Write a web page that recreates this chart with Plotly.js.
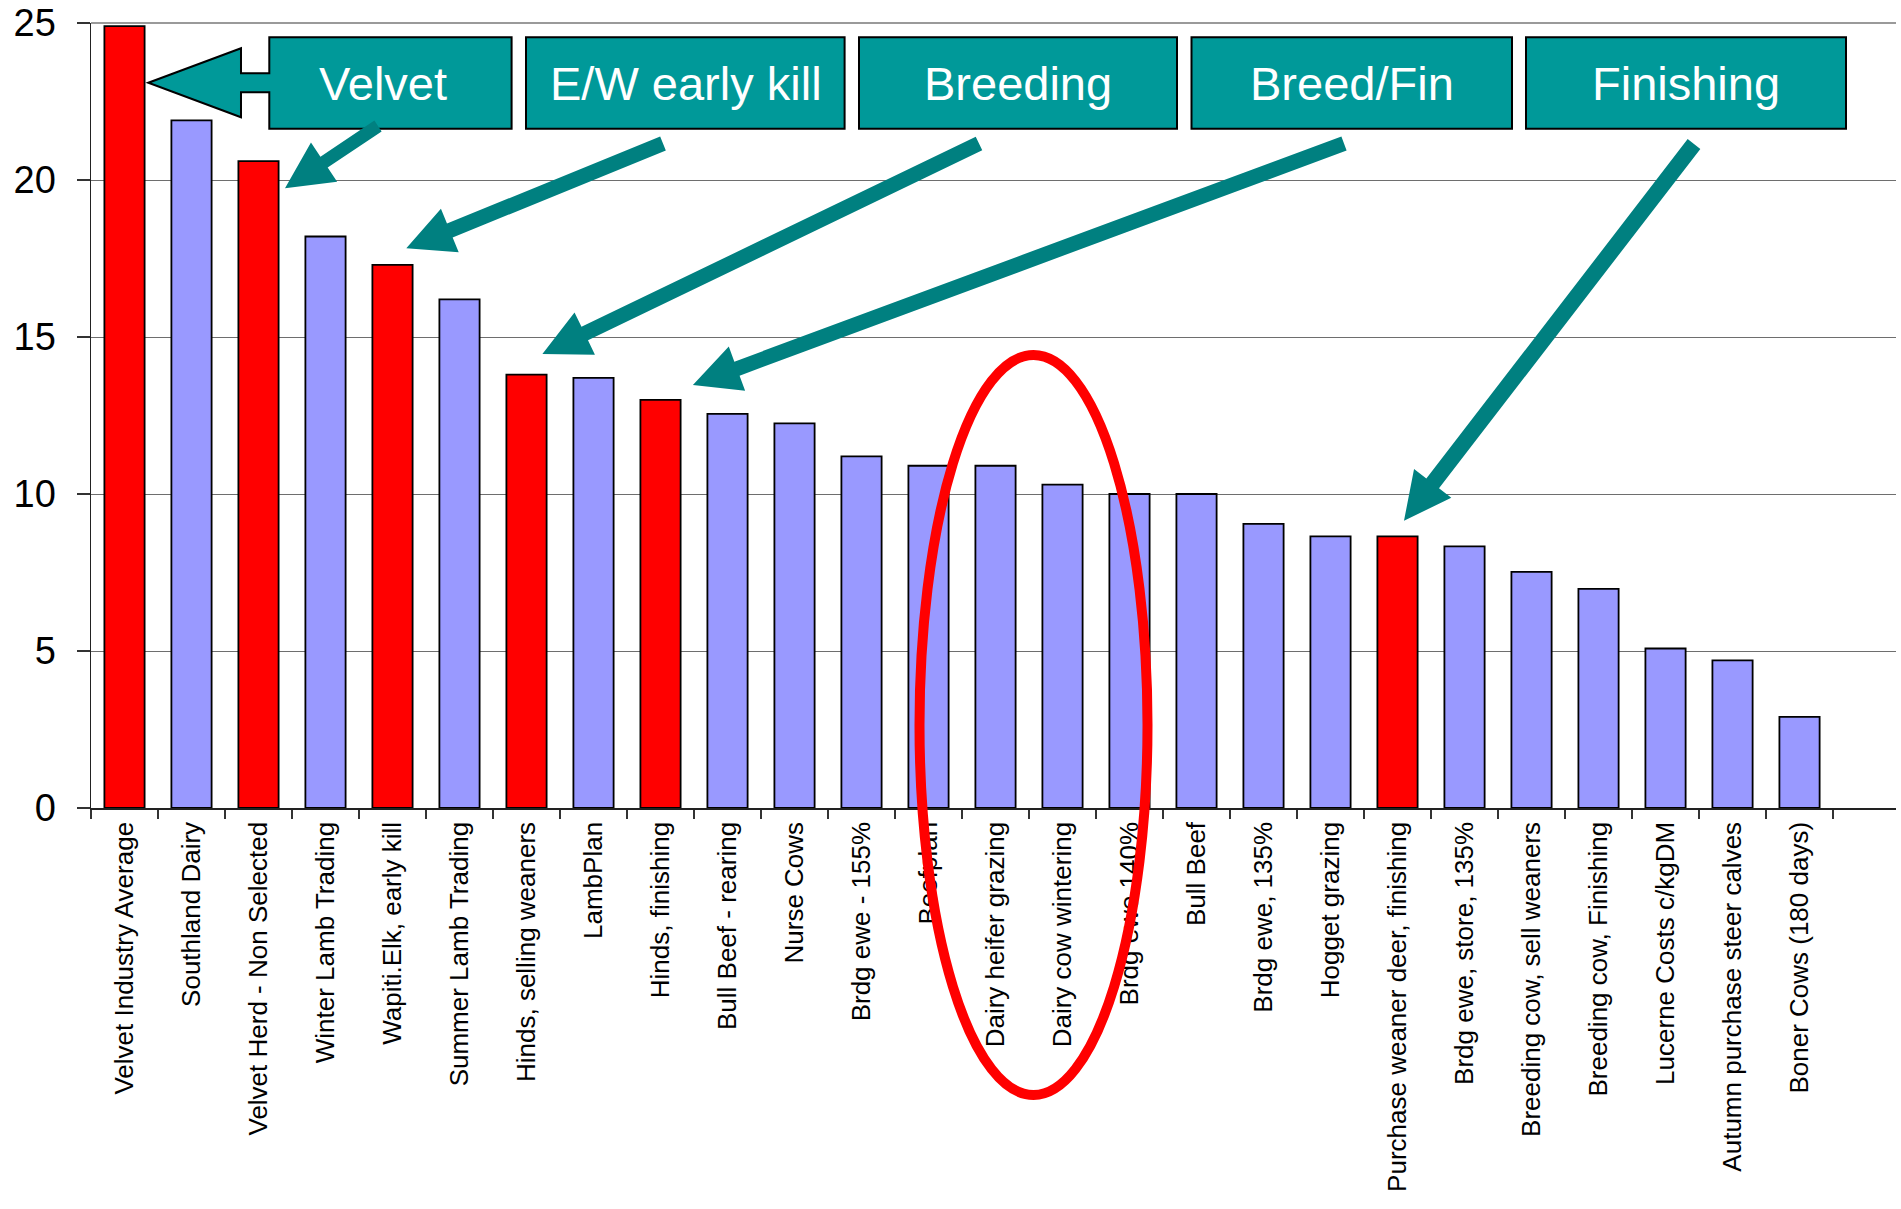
<!DOCTYPE html>
<html><head><meta charset="utf-8">
<script src="https://cdn.plot.ly/plotly-3.0.1.min.js"></script>
<style>html,body{margin:0;padding:0;background:#fff;} #chart{width:1901px;height:1209px;}</style>
</head><body><div id="chart"></div>
<script>
// ---- data ----
const categories = [
  'Velvet Industry Average','Southland Dairy','Velvet Herd - Non Selected','Winter Lamb Trading',
  'Wapiti.Elk, early kill','Summer Lamb Trading','Hinds, selling weaners','LambPlan',
  'Hinds, finishing','Bull Beef - rearing','Nurse Cows','Brdg ewe - 155%','Beefplan',
  'Dairy heifer grazing','Dairy cow wintering','Brdg ewe 140%','Bull Beef','Brdg ewe, 135%',
  'Hogget grazing','Purchase weaner deer, finishing','Brdg ewe, store, 135%',
  'Breeding cow, sell weaners','Breeding cow, Finishing','Lucerne Costs c/kgDM',
  'Autumn purchase steer calves','Boner Cows (180 days)'
];
const values = [24.9,21.9,20.6,18.2,17.3,16.2,13.8,13.7,13.0,12.55,12.25,11.2,10.9,10.9,10.3,10.0,10.0,9.05,8.65,8.65,8.33,7.52,6.98,5.08,4.7,2.9];
const groups = ['deer','other','deer','other','deer','other','deer','other','deer','other','other','other','other','other','other','other','other','other','other','deer','other','other','other','other','other','other'];
const yTicks = [0,5,10,15,20,25];
const boxLabels = ['Velvet','E/W early kill','Breeding','Breed/Fin','Finishing'];

// ---- styling / geometry ----
const FONT = 'Liberation Sans, Arial, Helvetica, sans-serif';
const groupColor = {deer:'#FF0000', other:'#9999FF'};
const W = 1901, H = 1209, M = {l:91, r:5, t:23, b:401};
const PW = W - M.l - M.r, PH = H - M.t - M.b;
const px = x => (x - M.l) / PW;
const py = y => (H - M.b - y) / PH;
const TEAL_BOX = '#009999', TEAL_ARROW = '#008080';

function polyPath(pts){
  return 'M ' + pts.map(p => px(p[0]).toFixed(5) + ',' + py(p[1]).toFixed(5)).join(' L ') + ' Z';
}
function arrowPath(S, T, w, hl, hw){
  const dx = T[0]-S[0], dy = T[1]-S[1], L = Math.hypot(dx,dy);
  const ux = dx/L, uy = dy/L, nx = -uy, ny = ux;
  const B = [T[0]-ux*hl, T[1]-uy*hl];
  return polyPath([
    [S[0]+nx*w/2, S[1]+ny*w/2], [B[0]+nx*w/2, B[1]+ny*w/2], [B[0]+nx*hw/2, B[1]+ny*hw/2],
    T, [B[0]-nx*hw/2, B[1]-ny*hw/2], [B[0]-nx*w/2, B[1]-ny*w/2], [S[0]-nx*w/2, S[1]-ny*w/2]
  ]);
}

const boxTop = 37.3, boxBot = 128.7;
const boxes = [ [269.3, 511.6], [526, 844.6], [859, 1177], [1191.5, 1512], [1526, 1846] ];
const textX = [383, 686, 1018, 1352, 1686];

const shapes = [];
// top border line at 25
shapes.push({type:'line', xref:'paper', yref:'paper', x0:0, x1:1, y0:1, y1:1, line:{color:'#9a9a9a', width:2}, layer:'below'});

// Velvet block arrow (box + left pointing arrow)
shapes.push({type:'path', xref:'paper', yref:'paper', layer:'above', fillcolor:TEAL_BOX, line:{color:'#000', width:2},
  path: polyPath([[148.3,82.7],[241,48.3],[241,73.3],[269.3,73.3],[269.3,boxTop],[511.6,boxTop],[511.6,boxBot],[269.3,boxBot],[269.3,92.3],[241,92.3],[241,117.3]])});
// other boxes
for (let i = 1; i < boxes.length; i++){
  shapes.push({type:'rect', xref:'paper', yref:'paper', layer:'above', fillcolor:TEAL_BOX, line:{color:'#000', width:2},
    x0:px(boxes[i][0]), x1:px(boxes[i][1]), y0:py(boxBot), y1:py(boxTop)});
}
// arrows
const arrows = [
  {S:[378,126], T:[285,188.3], w:13},
  {S:[663,143.5], T:[406.3,248.3], w:15},
  {S:[979,143.5], T:[542.4,354], w:15},
  {S:[1344,143.5], T:[692.9,385], w:15},
  {S:[1694,144], T:[1404,520.7], w:16}
];
arrows.forEach(a => shapes.push({type:'path', xref:'paper', yref:'paper', layer:'above', fillcolor:TEAL_ARROW, line:{width:0},
  path: arrowPath(a.S, a.T, a.w, 47, 47)}));
// red ellipse
const ecx = 1033.5, ecy = 725, erx = 114, ery = 370;
shapes.push({type:'circle', xref:'paper', yref:'paper', layer:'above', line:{color:'#FF0000', width:10}, fillcolor:'rgba(0,0,0,0)',
  x0:px(ecx-erx), x1:px(ecx+erx), y0:py(ecy+ery), y1:py(ecy-ery)});

const annotations = boxLabels.map((t,i) => ({
  xref:'paper', yref:'paper', x:px(textX[i]), y:py(84), xanchor:'center', yanchor:'middle',
  text:t, showarrow:false, font:{family:FONT, size:47, color:'#FFFFFF'}
}));

const trace = {
  type:'bar', x:categories, y:values,
  marker:{color: groups.map(g => groupColor[g]), line:{color:'#000', width:1.8}},
  hoverinfo:'x+y'
};

const layout = {
  width:W, height:H, margin:{l:M.l, r:M.r, t:M.t, b:M.b, pad:0},
  paper_bgcolor:'#fff', plot_bgcolor:'#fff', showlegend:false, bargap:0.4,
  font:{family:FONT, color:'#000'},
  xaxis:{type:'category', range:[-0.5, 26.44], showgrid:false, zeroline:false,
    showline:true, linecolor:'#222', linewidth:1.5,
    ticks:'outside', tickson:'boundaries', ticklen:9, tickcolor:'#333', tickwidth:1.3,
    tickangle:-90, tickfont:{family:FONT, size:26, color:'#000'}, automargin:false, ticklabelstandoff:2},
  yaxis:{range:[0,25], tickvals:yTicks, showgrid:true, gridcolor:'#6e6e6e', gridwidth:1, zeroline:false,
    showline:true, linecolor:'#222', linewidth:1.5,
    ticks:'outside', ticklen:13, tickcolor:'#333', tickwidth:1.3,
    tickfont:{family:FONT, size:38, color:'#000'}, automargin:false, ticklabelstandoff:13},
  shapes:shapes, annotations:annotations
};

Plotly.newPlot('chart', [trace], layout, {displayModeBar:false, staticPlot:true});
</script>
</body></html>
